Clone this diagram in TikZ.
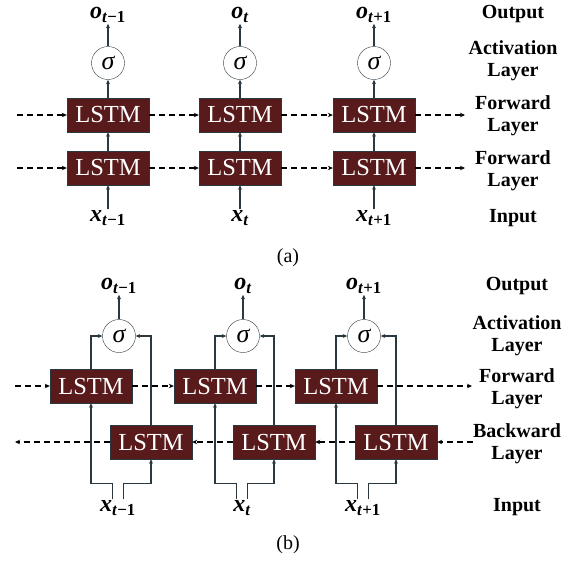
\documentclass[tikz,border=0pt]{standalone}
\usepackage{fontspec}
\setmainfont{Liberation Serif}
\usetikzlibrary{arrows.meta}
\definecolor{lstmred}{HTML}{581A1A}
\definecolor{wirec}{HTML}{2A3840}
\tikzset{
  lstm/.style={draw=wirec, fill=lstmred, text=white, minimum width=82pt,
    minimum height=34pt, inner sep=0pt, font=\fontsize{24.5}{24.5}\selectfont},
  act/.style={circle, draw=wirec, fill=white, minimum size=33pt, inner sep=0pt,
    font=\fontsize{26}{26}\selectfont\itshape},
  wire/.style={draw=wirec, line width=1.1pt, -{Stealth[length=4.5pt,width=4pt]}},
  recur/.style={draw=black, line width=1.4pt, dash pattern=on 6pt off 4pt,
    -{Stealth[length=5pt,width=4.5pt]}},
  vlab/.style={font=\fontsize{24}{24}\selectfont\bfseries\itshape, inner sep=1pt},
  layerlab/.style={font=\fontsize{20}{22}\selectfont\bfseries, align=center},
  caplab/.style={font=\fontsize{20}{20}\selectfont}
}
\begin{document}
\begin{tikzpicture}[x=1pt,y=-1pt]
  \useasboundingbox (0,0) rectangle (575,563);

  % (a) two stacked forward layers
  \foreach \i/\cx/\s in {1/108/{t\textup{−1}}, 2/240/t, 3/374/{t\textup{+1}}} {
    \node[lstm] (la\i) at (\cx,168) {LSTM};
    \node[lstm] (ua\i) at (\cx,115) {LSTM};
    \node[act] (sa\i) at (\cx,63) {σ};
    \node[vlab] (oa\i) at (\cx,15) {o\textsubscript{\s}};
    \node[vlab] (xa\i) at (\cx,218) {x\textsubscript{\s}};
    \draw[wire] (xa\i) -- (la\i);
    \draw[wire] (la\i) -- (ua\i);
    \draw[wire] (ua\i) -- (sa\i);
    \draw[wire] (sa\i) -- (oa\i);
  }
  \coordinate (ua0) at (17,115);
  \coordinate (ua4) at (465,115);
  \coordinate (la0) at (17,168);
  \coordinate (la4) at (465,168);
  \draw[recur] (ua0) -- (ua1.west);
  \draw[recur] (la0) -- (la1.west);
  \foreach \i/\j in {1/2, 2/3} {
    \draw[recur] (ua\i.east) -- (ua\j.west);
    \draw[recur] (la\i.east) -- (la\j.west);
  }
  \draw[recur] (ua3.east) -- (ua4);
  \draw[recur] (la3.east) -- (la4);

  \node[layerlab] (outa) at (513,14) {Output};
  \node[layerlab] (acta) at (513,61) {Activation\\Layer};
  \node[layerlab] (fwda) at (513,116) {Forward\\Layer};
  \node[layerlab] (fwdb) at (513,171) {Forward\\Layer};
  \node[layerlab] (ina) at (513,218) {Input};
  \node[caplab] (capa) at (288,258) {(a)};

  % (b) forward and backward layers
  \foreach \i/\fx/\bx/\sx/\s in {1/91/151/119/{t\textup{−1}}, 2/215/274/243/t,
      3/336/396/364/{t\textup{+1}}} {
    \node[lstm] (fb\i) at (\fx,386) {LSTM};
    \node[lstm] (bb\i) at (\bx,442) {LSTM};
    \node[act] (sb\i) at (\sx,336) {σ};
    \node[vlab] (ob\i) at (\sx,286) {o\textsubscript{\s}};
    \node[vlab] (xb\i) at (\sx-1,508) {x\textsubscript{\s}};
    \draw[wire] (sb\i) -- (ob\i);
    \draw[wire] (fb\i.north) |- (sb\i.west);
    \draw[wire] (bb\i.north) |- (sb\i.east);
    \draw[wire] ([xshift=-5.5pt]xb\i.north) -- ++(0,-16) -| (fb\i.south);
    \draw[wire] ([xshift=5.5pt]xb\i.north) -- ++(0,-16) -| (bb\i.south);
  }
  \coordinate (fb0) at (15,386);
  \coordinate (fb4) at (472,386);
  \coordinate (bb0) at (15,442);
  \coordinate (bb4) at (473,442);
  \draw[recur] (fb0) -- (fb1.west);
  \draw[recur] (bb1.west) -- (bb0);
  \foreach \i/\j in {1/2, 2/3} {
    \draw[recur] (fb\i.east) -- (fb\j.west);
    \draw[recur] (bb\j.west) -- (bb\i.east);
  }
  \draw[recur] (fb3.east) -- (fb4);
  \draw[recur] (bb4) -- (bb3.east);

  \node[layerlab] (outb) at (517,286) {Output};
  \node[layerlab] (actb) at (517,336) {Activation\\Layer};
  \node[layerlab] (fwdc) at (517,389) {Forward\\Layer};
  \node[layerlab] (bwdb) at (517,444) {Backward\\Layer};
  \node[layerlab] (inb) at (517,507) {Input};
  \node[caplab] (capb) at (288,545) {(b)};
\end{tikzpicture}
\end{document}
